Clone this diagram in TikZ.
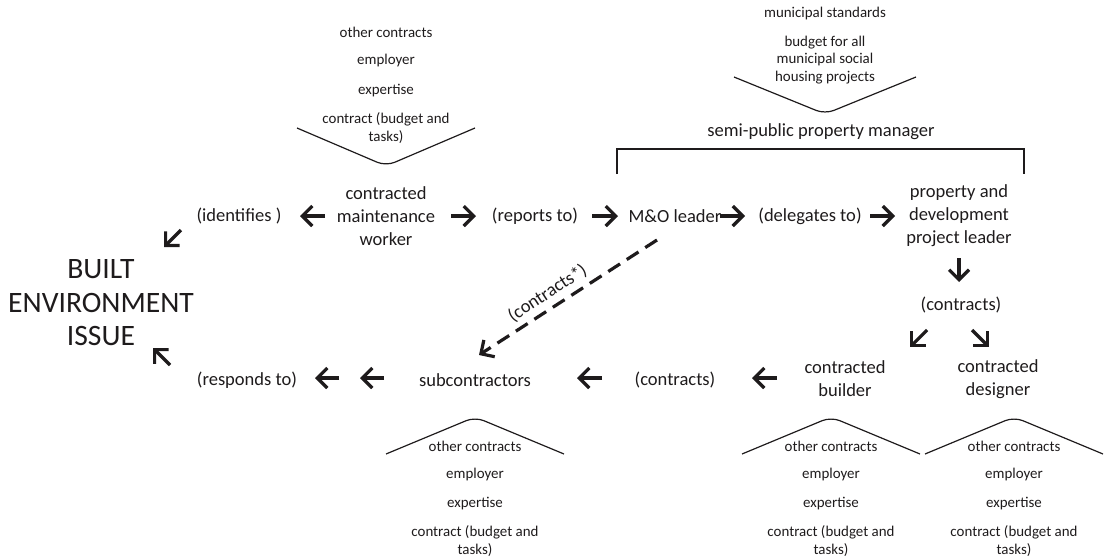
\documentclass[tikz,border=0pt]{standalone}
\usepackage{fontspec}
\setmainfont{Carlito}
\usetikzlibrary{arrows.meta,calc}
\definecolor{ink}{HTML}{1E1B1C}
\begin{document}
\begin{tikzpicture}[x=0.75pt,y=-0.75pt,
  every node/.style={text=ink, inner sep=0pt},
  lbl/.style={font=\fontsize{13.9}{17.25}\selectfont, align=center},
  big/.style={font=\fontsize{22.2}{25.1}\selectfont, align=center},
  small/.style={font=\fontsize{11.2}{13.1}\selectfont, align=center},
  arr/.style={draw=ink, line width=2.4pt, -{Straight Barb[length=7.5pt,width=15pt]}},
  darr/.style={arr, dash pattern=on 10.5pt off 6pt},
  chev/.style={draw=ink, line width=0.9pt, rounded corners=7pt},
  brk/.style={draw=ink, line width=2.2pt},
]
\useasboundingbox (0,0) rectangle (1110,558);

% --- main actors and relations, top row
\node[lbl] (worker)   at (386,216) {contracted\\maintenance\\worker};
\node[lbl] (ident)    at (239,216) {(identifies )};
\node[lbl] (reports)  at (535,216) {(reports to)};
\node[lbl] (mo)       at (675,216) {M\&O leader};
\node[lbl] (deleg)    at (810,216) {(delegates to)};
\node[lbl] (pdl)      at (959,216) {property and\\development\\project leader};
\node[lbl] (semi)     at (821,132) {semi-public property manager};

% --- the issue
\node[big] (issue) at (101,303) {BUILT\\ENVIRONMENT\\ISSUE};

% --- bottom row
\node[lbl] (contr1)   at (961,305) {(contracts)};
\node[lbl] (builder)  at (845,379) {contracted\\builder};
\node[lbl] (designer) at (998,379) {contracted\\designer};
\node[lbl] (contr2)   at (675,380) {(contracts)};
\node[lbl] (subs)     at (475,380) {subcontractors};
\node[lbl] (responds) at (247,380) {(responds to)};

% --- context above the worker
\node[small] (wOther) at (386,32)  {other contracts};
\node[small] (wEmpl)  at (386,61)  {employer};
\node[small] (wExp)   at (386,91)  {expertise};
\node[small] (wCon)   at (386,128) {contract (budget and\\tasks)};
\draw[chev] (297,128) -- (386,166) -- (475,128);

% --- context above the property manager
\node[small] (mStd) at (825,14) {municipal standards};
\node[small] (mBud) at (825,60) {budget for all\\municipal social\\housing projects};
\draw[chev] (734,77) -- (825,114) -- (916,77);

% --- bracket grouping the property manager staff
\draw[brk] (617,174) -- (617,149) -- (1024,149) -- (1024,174);

% --- context below the contracted parties
\foreach \cx/\nm in {475/s, 831/b, 1014/d}{
  \node[small] (\nm Other) at (\cx,446) {other contracts};
  \node[small] (\nm Empl)  at (\cx,475) {employer};
  \node[small] (\nm Exp)   at (\cx,504) {expertise};
  \node[small] (\nm Con)   at (\cx,541) {contract (budget and\\tasks)};
  \draw[chev] (\cx-89,454) -- (\cx,417) -- (\cx+89,454);
}

% --- arrow end points
\coordinate (a1s) at (325,216); \coordinate (a1e) at (300,216);
\coordinate (a2s) at (451,216); \coordinate (a2e) at (476,216);
\coordinate (a3s) at (592,216); \coordinate (a3e) at (618,216);
\coordinate (a4s) at (720,216); \coordinate (a4e) at (745,216);
\coordinate (a5s) at (870,216); \coordinate (a5e) at (895,216);
\coordinate (a6s) at (181,230); \coordinate (a6e) at (164,247);
\coordinate (a7s) at (170,365); \coordinate (a7e) at (153,348);
\coordinate (a8s) at (384,378); \coordinate (a8e) at (360,378);
\coordinate (a9s) at (339,378); \coordinate (a9e) at (315,378);
\coordinate (b1s) at (602,378); \coordinate (b1e) at (577,378);
\coordinate (b2s) at (777,378); \coordinate (b2e) at (752,378);
\coordinate (b3s) at (959,258); \coordinate (b3e) at (959,282);
\coordinate (b4s) at (927,330); \coordinate (b4e) at (910,347);
\coordinate (b5s) at (972,330); \coordinate (b5e) at (989,347);
\coordinate (dS)  at (657,240); \coordinate (dE)  at (479,355);

\draw[arr] (a1s) -- (a1e);
\draw[arr] (a2s) -- (a2e);
\draw[arr] (a3s) -- (a3e);
\draw[arr] (a4s) -- (a4e);
\draw[arr] (a5s) -- (a5e);
\draw[arr] (a6s) -- (a6e);
\draw[arr] (a7s) -- (a7e);
\draw[arr] (a8s) -- (a8e);
\draw[arr] (a9s) -- (a9e);
\draw[arr] (b1s) -- (b1e);
\draw[arr] (b2s) -- (b2e);
\draw[arr] (b3s) -- (b3e);
\draw[arr] (b4s) -- (b4e);
\draw[arr] (b5s) -- (b5e);

% --- direct contracting, dashed
\draw[darr] (dS) -- (dE);
\node[lbl, rotate=33.2] (dLbl) at ($(dS)!0.57!(dE) + (-8,-12.5)$) {(contracts*)};
\end{tikzpicture}
\end{document}
